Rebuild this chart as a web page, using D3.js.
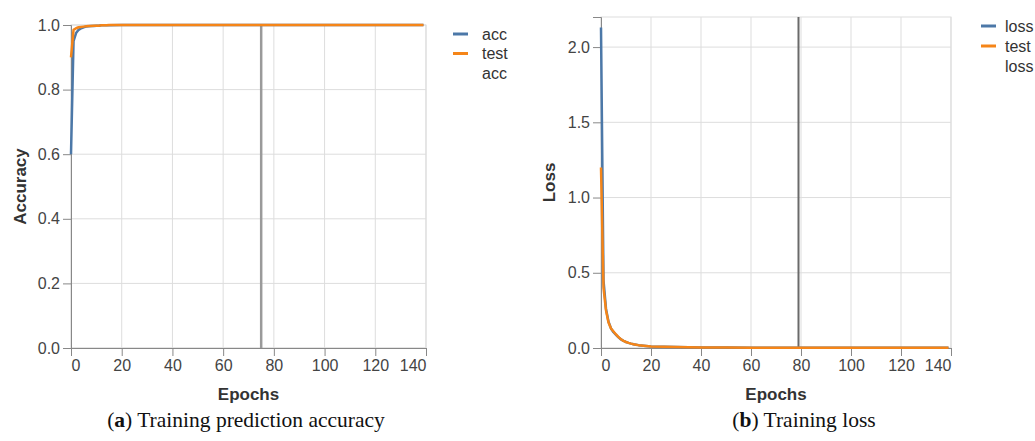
<!DOCTYPE html>
<html>
<head>
<meta charset="utf-8">
<script src="https://cdn.jsdelivr.net/npm/d3@7"></script>
<style>
  html, body { margin: 0; padding: 0; background: #fff; }
  svg { display: block; font-family: Arial, "Liberation Sans", sans-serif; }
</style>
</head>
<body>
<div id="chart"></div>
<script>
const epochs = [0, 1, 2, 3, 4, 5, 6, 7, 8, 9, 10, 11, 12, 13, 14, 15,
  20, 30, 40, 50, 60, 70, 80, 90, 100, 110, 120, 130, 139];

// accuracy panel
const acc = [0.60, 0.95, 0.975, 0.985, 0.99, 0.993, 0.995, 0.996, 0.997, 0.997, 0.998, 0.998, 0.999, 0.999, 0.999, 0.999,
  1.0, 1.0, 1.0, 1.0, 1.0, 1.0, 1.0, 1.0, 1.0, 1.0, 1.0, 1.0, 1.0];
const testAcc = [0.90, 0.985, 0.990, 0.993, 0.994, 0.995, 0.996, 0.997, 0.997, 0.998, 0.998, 0.998, 0.999, 0.999, 0.999, 1.0,
  1.0, 1.0, 1.0, 1.0, 1.0, 1.0, 1.0, 1.0, 1.0, 1.0, 1.0, 1.0, 1.0];

// loss panel
const loss = [2.13, 0.45, 0.26, 0.175, 0.13, 0.105, 0.088, 0.071, 0.057, 0.047, 0.040, 0.034, 0.029, 0.025, 0.022, 0.019,
  0.010, 0.006, 0.004, 0.003, 0.002, 0.002, 0.001, 0.001, 0.001, 0.001, 0.001, 0.001, 0.001];
const testLoss = [1.20, 0.40, 0.25, 0.17, 0.13, 0.11, 0.09, 0.072, 0.058, 0.047, 0.040, 0.034, 0.029, 0.025, 0.022, 0.019,
  0.010, 0.006, 0.004, 0.003, 0.002, 0.002, 0.001, 0.001, 0.001, 0.001, 0.001, 0.001, 0.001];

const xTicks = [0, 20, 40, 60, 80, 100, 120, 140];
const accTicks = [0, 0.2, 0.4, 0.6, 0.8, 1.0];
const lossTicks = [0, 0.5, 1.0, 1.5, 2.0];

const BLUE = "#4c78a8";
const ORANGE = "#f58518";

const svg = d3.select("#chart").append("svg")
  .attr("width", 1035)
  .attr("height", 441);

// one panel: grid, axes, rule, two lines, legend, caption
function drawPanel(p) {
  const x = d3.scaleLinear().domain([0, 140]).range([p.left, p.right]);
  const y = d3.scaleLinear().domain(p.yDomain).range([p.bottom, p.top]);
  const g = svg.append("g");

  // grid
  g.selectAll("line.gx").data(xTicks).join("line")
    .attr("x1", d => x(d)).attr("x2", d => x(d))
    .attr("y1", p.top).attr("y2", p.bottom)
    .attr("stroke", "#ddd").attr("stroke-width", 1);
  g.selectAll("line.gy").data(p.yTicks).join("line")
    .attr("x1", p.left).attr("x2", p.right)
    .attr("y1", d => y(d)).attr("y2", d => y(d))
    .attr("stroke", "#ddd").attr("stroke-width", 1);
  g.append("rect")
    .attr("x", p.left).attr("y", p.top)
    .attr("width", p.right - p.left).attr("height", p.bottom - p.top)
    .attr("fill", "none").attr("stroke", "#ddd");

  // axes
  const xAxis = g.append("g")
    .attr("transform", `translate(0,${p.bottom})`)
    .call(d3.axisBottom(x).tickValues(xTicks).tickSize(8).tickPadding(4).tickFormat(d3.format("d")));
  const yAxis = g.append("g")
    .attr("transform", `translate(${p.left},0)`)
    .call(d3.axisLeft(y).tickValues(p.yTicks).tickSize(8).tickPadding(3).tickFormat(d3.format(".1f")));

  [xAxis, yAxis].forEach(a => {
    a.select(".domain").attr("stroke", "#888");
    a.selectAll(".tick line").attr("stroke", "#888");
    a.selectAll(".tick text")
      .attr("fill", "#444")
      .style("font-size", "16px")
      .style("font-family", "Arial, 'Liberation Sans', sans-serif");
  });
  // flush first / last x label like vega-lite
  xAxis.selectAll(".tick text")
    .attr("text-anchor", d => d === 0 ? "start" : (d === 140 ? "end" : "middle"));

  // axis titles
  g.append("text")
    .attr("x", (p.left + p.right) / 2).attr("y", 400)
    .attr("text-anchor", "middle")
    .attr("font-weight", "bold").attr("font-size", 17).attr("fill", "#333")
    .text("Epochs");
  g.append("text")
    .attr("transform", `translate(${p.yTitleX},${(p.top + p.bottom) / 2}) rotate(-90)`)
    .attr("text-anchor", "middle")
    .attr("font-weight", "bold").attr("font-size", 17).attr("fill", "#333")
    .text(p.yTitle);

  // vertical marker rule
  g.append("line")
    .attr("x1", x(p.ruleAt)).attr("x2", x(p.ruleAt))
    .attr("y1", p.top).attr("y2", p.bottom)
    .attr("stroke", p.ruleColor).attr("stroke-width", p.ruleWidth);

  // lines
  const series = [
    { values: p.train, color: BLUE },
    { values: p.test, color: ORANGE }
  ];
  const line = d3.line()
    .x((d, i) => x(epochs[i]))
    .y(d => y(d));
  g.selectAll("path.series").data(series).join("path")
    .attr("class", "series")
    .attr("d", d => line(d.values))
    .attr("fill", "none")
    .attr("stroke", d => d.color)
    .attr("stroke-width", 2.5)
    .attr("stroke-linejoin", "round");

  // legend (the right one runs off the page edge, as in the source)
  const leg = g.append("g").attr("transform", `translate(${p.legendX},${p.legendY})`);
  p.legendLabels.forEach(lab => {
    const row = leg.append("g").attr("transform", `translate(0,${lab.dy})`);
    if (lab.symbol) {
      row.append("line")
        .attr("x1", 0).attr("x2", 15).attr("y1", 0).attr("y2", 0)
        .attr("stroke", lab.color).attr("stroke-width", 3);
    }
    row.append("text")
      .attr("x", p.legendTextX).attr("y", 0).attr("dy", "0.35em")
      .attr("font-size", 16).attr("fill", "#333")
      .text(lab.text);
  });

  // caption
  const cap = svg.append("text")
    .attr("x", p.captionX).attr("y", 427)
    .attr("text-anchor", "middle")
    .attr("font-family", "'Liberation Serif', 'DejaVu Serif', serif")
    .attr("font-size", 21.5).attr("fill", "#111");
  cap.append("tspan").text("(");
  cap.append("tspan").attr("font-weight", "bold").text(p.captionTag);
  cap.append("tspan").text(") " + p.caption);
}

drawPanel({
  left: 71, right: 426, top: 25, bottom: 348,
  yDomain: [0, 1], yTicks: accTicks, yTitle: "Accuracy", yTitleX: 26,
  train: acc, test: testAcc,
  ruleAt: 75, ruleColor: "#9a9a9a", ruleWidth: 2.5,
  legendX: 453, legendY: 34, legendTextX: 29,
  legendLabels: [
    { text: "acc", color: BLUE, symbol: true, dy: 0 },
    { text: "test", color: ORANGE, symbol: true, dy: 19.5 },
    { text: "acc", dy: 39 }
  ],
  captionX: 246, captionTag: "a", caption: "Training prediction accuracy"
});

drawPanel({
  left: 601, right: 951, top: 17, bottom: 348,
  yDomain: [0, 2.2], yTicks: lossTicks, yTitle: "Loss", yTitleX: 555,
  train: loss, test: testLoss,
  ruleAt: 79, ruleColor: "#6a6a6a", ruleWidth: 2,
  legendX: 981, legendY: 26, legendTextX: 24,
  legendLabels: [
    { text: "loss", color: BLUE, symbol: true, dy: 0 },
    { text: "test", color: ORANGE, symbol: true, dy: 20 },
    { text: "loss", dy: 40 }
  ],
  captionX: 804, captionTag: "b", caption: "Training loss"
});
</script>
</body>
</html>
